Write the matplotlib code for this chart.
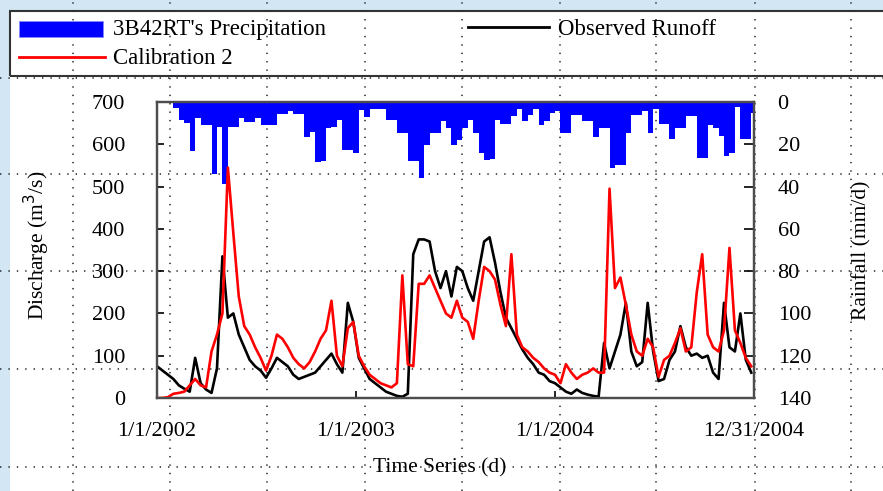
import numpy as np
import matplotlib
matplotlib.use("Agg")
import matplotlib.pyplot as plt
from matplotlib.patches import Rectangle
from matplotlib.lines import Line2D

# ---------------- data (10-day steps from 1/1/2002) ----------------
days = list(range(0, 1100, 10))  # day offsets of each sample

observed_runoff = [
    75, 65, 55, 45, 30, 22, 15, 95, 35, 20,
    12, 70, 335, 190, 200, 150, 120, 90, 75, 65,
    48, 70, 95, 85, 75, 55, 45, 50, 55, 60,
    75, 90, 105, 80, 60, 225, 180, 95, 70, 45,
    35, 25, 15, 10, 5, 3, 10, 340, 375, 375,
    370, 300, 260, 300, 240, 310, 300, 260, 230, 300,
    370, 380, 320, 250, 190, 165, 140, 115, 95, 80,
    60, 55, 40, 35, 25, 15, 10, 20, 12, 8,
    5, 3, 130, 70, 110, 150, 225, 110, 75, 85,
    225, 110, 40, 45, 90, 110, 170, 120, 100, 105,
    95, 100, 60, 45, 225, 120, 110, 200, 90, 60,
]

calibration_2 = [
    0, 0, 2, 10, 12, 15, 30, 45, 30, 25,
    110, 150, 200, 545, 390, 240, 170, 150, 120, 95,
    65, 100, 150, 140, 120, 95, 80, 70, 85, 110,
    140, 160, 230, 100, 75, 165, 180, 100, 75, 55,
    45, 35, 30, 25, 35, 290, 80, 75, 270, 270,
    290, 260, 230, 200, 190, 230, 190, 180, 140, 230,
    310, 300, 280, 220, 170, 340, 150, 120, 110, 95,
    85, 70, 60, 55, 35, 80, 60, 45, 55, 60,
    70, 60, 60, 495, 260, 285, 220, 150, 110, 100,
    140, 120, 50, 90, 100, 130, 165, 110, 120, 250,
    340, 150, 120, 110, 160, 355, 160, 130, 95, 75,
]

precipitation = [
    0, 0, 0, 3, 8.5, 10, 23, 7.5, 10.7, 11,
    34, 12, 39, 12, 12, 7.5, 9.5, 9.5, 7.5, 10.8,
    11, 11, 5.8, 5.8, 4.3, 5.8, 5.8, 16.4, 14, 28.5,
    28, 12.5, 12, 8.5, 22.7, 22.7, 24, 3.8, 7, 3.2,
    3.2, 3.2, 8.5, 8.5, 14.7, 14.7, 28, 28, 36, 20.5,
    14.7, 14.7, 9, 12.5, 20.5, 18, 12.5, 8.5, 14.5, 24,
    27.5, 27, 8.5, 10.5, 10.5, 6.7, 3.5, 9, 6, 3.5,
    11, 9, 5, 4.3, 14.5, 14.5, 6.3, 6.3, 9, 9,
    16.5, 12.5, 12.5, 31, 30, 30, 14.5, 6.3, 6.3, 4.3,
    14.5, 3.5, 10.5, 10.5, 17.5, 12.5, 12.5, 6.7, 6.7, 26.5,
    26.5, 11, 12.5, 16, 25.5, 24, 2.5, 17.5, 17.5, 5,
]

x_tick_days = [0, 365, 730, 1095]
x_tick_labels = ["1/1/2002", "1/1/2003", "1/1/2004", "12/31/2004"]
q_ticks = [0, 100, 200, 300, 400, 500, 600, 700]
r_ticks = [0, 20, 40, 60, 80, 100, 120, 140]

# ---------------- figure ----------------
W, H = 883, 491
fig = plt.figure(figsize=(W / 100, H / 100), dpi=100)
fig.patch.set_facecolor("white")
SERIF = ["Liberation Serif", "DejaVu Serif"]


def fx(p):
    return p / W


def fy(p):
    return 1 - p / H


# slide background strips
bg = "#d3e6f3"
fig.add_artist(Rectangle((0, 0), fx(10), 1, transform=fig.transFigure,
                         facecolor=bg, edgecolor="none", zorder=-3))
fig.add_artist(Rectangle((0, fy(10)), 1, 10 / H, transform=fig.transFigure,
                         facecolor=bg, edgecolor="none", zorder=-3))

# dotted guide grid
dot = (0, (0.9, 4.6))
for gx in [73, 170, 267, 365, 462, 560, 656, 755, 851]:
    fig.add_artist(Line2D([fx(gx), fx(gx)], [0, 1], transform=fig.transFigure,
                          color="#222222", lw=1.1, linestyle=dot, zorder=-1))
for gy in [78, 174, 271, 369, 467]:
    fig.add_artist(Line2D([0, 1], [fy(gy), fy(gy)], transform=fig.transFigure,
                          color="#222222", lw=1.1, linestyle=dot, zorder=-1))

# legend box
fig.add_artist(Rectangle((fx(10), fy(76)), fx(900), 65 / H, transform=fig.transFigure,
                         fill=False, edgecolor="#333333", lw=1.5, zorder=3))
fig.add_artist(Rectangle((fx(19), fy(37)), fx(84), 16 / H, transform=fig.transFigure,
                         facecolor="#0000ff", edgecolor="#8888ff", lw=0.6, zorder=3))
fig.add_artist(Line2D([fx(468), fx(549)], [fy(27), fy(27)], transform=fig.transFigure,
                      color="black", lw=2.0, zorder=3))
fig.add_artist(Line2D([fx(19), fx(105)], [fy(57), fy(57)], transform=fig.transFigure,
                      color="red", lw=2.0, zorder=3))
fig.text(fx(113), fy(35), "3B42RT's Precipitation", family=SERIF, fontsize=16.5,
         va="baseline", ha="left")
fig.text(fx(558), fy(35), "Observed Runoff", family=SERIF, fontsize=16.5,
         va="baseline", ha="left")
fig.text(fx(113), fy(64), "Calibration 2", family=SERIF, fontsize=16.5,
         va="baseline", ha="left")

# ---------------- axes ----------------
left, right, top, bottom = 157, 754, 102, 398
ax = fig.add_axes([fx(left), fy(bottom), fx(right - left), (bottom - top) / H])
ax2 = ax.twinx()
ax.set_zorder(2)
ax2.set_zorder(1)
ax.patch.set_visible(False)
ax2.patch.set_visible(False)

ax2.bar(days, precipitation, width=10, align="edge", color="#0000ff",
        edgecolor="none")
ax2.set_ylim(140, 0)
ax2.set_yticks(r_ticks)
ax2.set_yticklabels([str(v) for v in r_ticks])

ax.plot(days, observed_runoff, color="black", lw=1.9)
ax.plot(days, calibration_2, color="red", lw=1.9)
ax.set_xlim(0, 1095)
ax.set_ylim(0, 700)
ax.set_yticks(q_ticks)
ax.set_yticklabels([str(v) for v in q_ticks])
ax.set_xticks(x_tick_days)
ax.set_xticklabels(x_tick_labels)

for a in (ax, ax2):
    for s in a.spines.values():
        s.set_color("#4d4d4d")
        s.set_linewidth(1.6)

ax.tick_params(axis="y", direction="in", length=5, width=1.2, pad=23,
               labelsize=16)
ax.tick_params(axis="x", direction="in", length=5, width=1.2, pad=17,
               labelsize=16)
ax2.tick_params(axis="y", direction="in", length=7, width=1.2, pad=17,
                labelsize=16)
for lab in ax.get_xticklabels() + ax.get_yticklabels() + ax2.get_yticklabels():
    lab.set_family(SERIF)

fig.text(fx(37), fy(245), "Discharge (m$^3$/s)", family=SERIF, fontsize=15.5,
         rotation=90, ha="center", va="center")
fig.text(fx(862), fy(250), "Rainfall (mm/d)", family=SERIF, fontsize=15.5,
         rotation=90, ha="center", va="center")
fig.text(fx(440), fy(468), "Time Series (d)", family=SERIF, fontsize=15.5,
         ha="center", va="center")

fig.savefig("out.png", dpi=100)
